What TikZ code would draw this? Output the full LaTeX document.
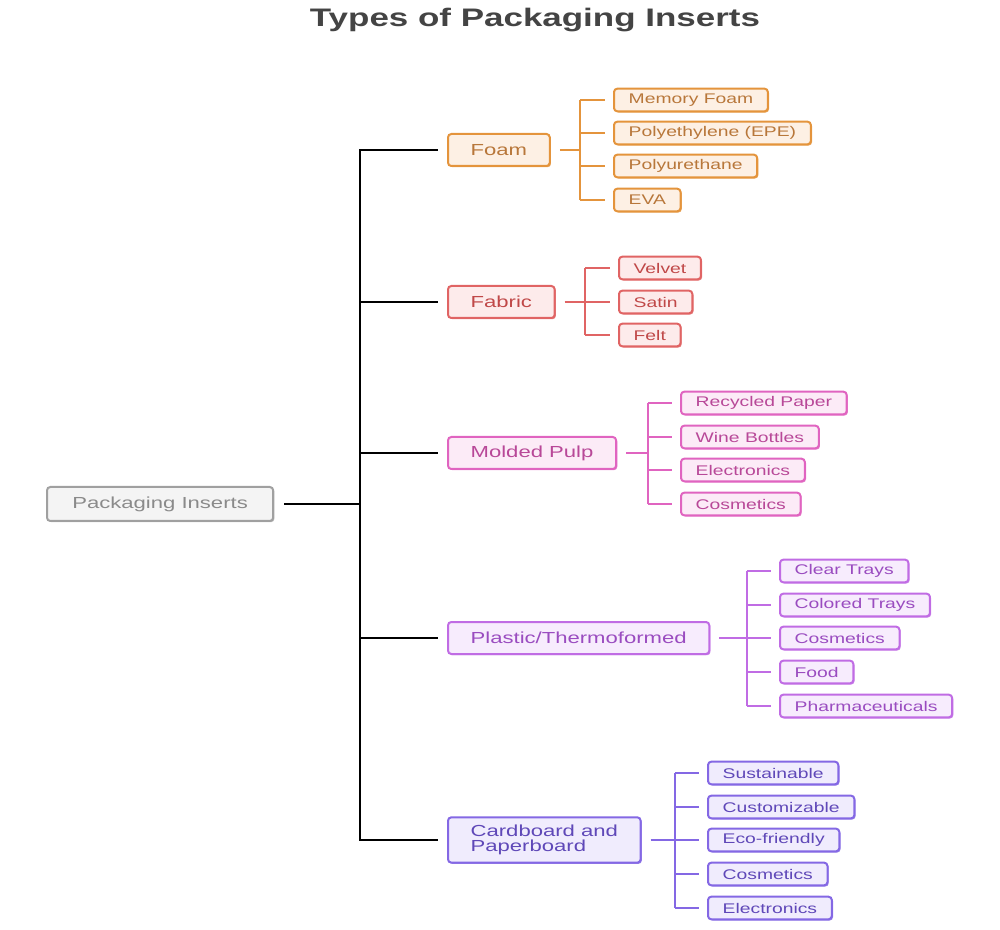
\documentclass[tikz,border=0pt]{standalone}
\usepackage{fontspec}
\setmainfont{Liberation Sans}[FakeStretch=1.38]
\usepackage{tikz}
\usetikzlibrary{shadows}

\definecolor{rootline}{HTML}{A0A0A0}
\definecolor{rootfill}{HTML}{F4F4F4}
\definecolor{roottext}{HTML}{8A8A8A}
\definecolor{foamline}{HTML}{E4943C}
\definecolor{foamfill}{HTML}{FDF0E4}
\definecolor{foamtext}{HTML}{B8773A}
\definecolor{fabricline}{HTML}{E06464}
\definecolor{fabricfill}{HTML}{FDEBEB}
\definecolor{fabrictext}{HTML}{C04848}
\definecolor{pulpline}{HTML}{E064C0}
\definecolor{pulpfill}{HTML}{FCEBF7}
\definecolor{pulptext}{HTML}{B84898}
\definecolor{plasticline}{HTML}{C06CE4}
\definecolor{plasticfill}{HTML}{F7ECFD}
\definecolor{plastictext}{HTML}{9A4CC0}
\definecolor{cardline}{HTML}{8468E4}
\definecolor{cardfill}{HTML}{F0ECFD}
\definecolor{cardtext}{HTML}{5F48B8}
\definecolor{titletext}{HTML}{444444}

\tikzset{
  box/.style={draw, rounded corners=2.5pt, line width=1.5pt, anchor=west},
  rootbox/.style={box, draw=rootline, fill=rootfill, text=roottext,
    font=\fontsize{12}{14}\selectfont, inner xsep=19pt, minimum height=25.5pt,
    drop shadow={shadow xshift=0.9pt, shadow yshift=-0.9pt, fill=rootline, opacity=.7}},
  catbox/.style={box, font=\fontsize{12}{11}\selectfont, inner xsep=17pt, minimum height=24pt, align=left},
  leafbox/.style={box, font=\fontsize{10.5}{12}\selectfont, inner xsep=11pt, minimum height=17pt},
  fam/.style={draw=#1line, fill=#1fill, text=#1text,
    drop shadow={shadow xshift=0.9pt, shadow yshift=-0.9pt, fill=#1line, opacity=.8}},
  trunk/.style={line width=2pt, black},
  link/.style={line width=1.5pt, draw=#1line}
}

\begin{document}
\begin{tikzpicture}[x=0.75pt,y=-0.75pt]
  \useasboundingbox (0,0) rectangle (1000,930);

  % Title
  \node[text=titletext, font=\fontsize{19}{21}\selectfont\bfseries] (title) at (535,20) {Types of Packaging Inserts};

  % Root and categories
  \node[rootbox] (root) at (46,504) {Packaging Inserts};
  \node[catbox, fam=foam] (foam) at (447,150) {Foam};
  \node[catbox, fam=fabric] (fabric) at (447,302) {Fabric};
  \node[catbox, fam=pulp] (pulp) at (447,453) {Molded Pulp};
  \node[catbox, fam=plastic] (plastic) at (447,638) {Plastic/Thermoformed};
  \node[catbox, fam=card, minimum height=34pt] (card) at (447,840) {Cardboard and\\Paperboard};

  % Trunk
  \coordinate (t-root) at (360,504);
  \coordinate (t-foam) at (360,150);
  \coordinate (t-fabric) at (360,302);
  \coordinate (t-pulp) at (360,453);
  \coordinate (t-plastic) at (360,638);
  \coordinate (t-card) at (360,840);
  \draw[trunk, line cap=rect] (t-foam) -- (t-card);
  \draw[trunk, shorten <=7.5pt] (root) -- (t-root);
  \draw[trunk, shorten >=6.75pt] (t-foam) -- (foam);
  \draw[trunk, shorten >=6.75pt] (t-fabric) -- (fabric);
  \draw[trunk, shorten >=6.75pt] (t-pulp) -- (pulp);
  \draw[trunk, shorten >=6.75pt] (t-plastic) -- (plastic);
  \draw[trunk, shorten >=6.75pt] (t-card) -- (card);

  % Foam
  \node[leafbox, fam=foam] (memory) at (613,100) {Memory Foam};
  \node[leafbox, fam=foam] (epe) at (613,133) {Polyethylene (EPE)};
  \node[leafbox, fam=foam] (urethane) at (613,166) {Polyurethane};
  \node[leafbox, fam=foam] (eva) at (613,200) {EVA};
  \coordinate (b-foam) at (580,150);
  \draw[link=foam, shorten <=6.75pt] (foam) -- (b-foam);
  \draw[link=foam] (b-foam |- memory) -- (b-foam |- eva);
  \draw[link=foam, shorten >=6pt] (b-foam |- memory) -- (memory);
  \draw[link=foam, shorten >=6pt] (b-foam |- epe) -- (epe);
  \draw[link=foam, shorten >=6pt] (b-foam |- urethane) -- (urethane);
  \draw[link=foam, shorten >=6pt] (b-foam |- eva) -- (eva);

  % Fabric
  \node[leafbox, fam=fabric] (velvet) at (618,268) {Velvet};
  \node[leafbox, fam=fabric] (satin) at (618,302) {Satin};
  \node[leafbox, fam=fabric] (felt) at (618,335) {Felt};
  \coordinate (b-fabric) at (585,302);
  \draw[link=fabric, shorten <=6.75pt] (fabric) -- (b-fabric);
  \draw[link=fabric] (b-fabric |- velvet) -- (b-fabric |- felt);
  \draw[link=fabric, shorten >=6pt] (b-fabric |- velvet) -- (velvet);
  \draw[link=fabric, shorten >=6pt] (b-fabric |- satin) -- (satin);
  \draw[link=fabric, shorten >=6pt] (b-fabric |- felt) -- (felt);

  % Molded pulp
  \node[leafbox, fam=pulp] (recycled) at (680,403) {Recycled Paper};
  \node[leafbox, fam=pulp] (wine) at (680,437) {Wine Bottles};
  \node[leafbox, fam=pulp] (pulpelec) at (680,470) {Electronics};
  \node[leafbox, fam=pulp] (pulpcos) at (680,504) {Cosmetics};
  \coordinate (b-pulp) at (648,453);
  \draw[link=pulp, shorten <=6.75pt] (pulp) -- (b-pulp);
  \draw[link=pulp] (b-pulp |- recycled) -- (b-pulp |- pulpcos);
  \draw[link=pulp, shorten >=6pt] (b-pulp |- recycled) -- (recycled);
  \draw[link=pulp, shorten >=6pt] (b-pulp |- wine) -- (wine);
  \draw[link=pulp, shorten >=6pt] (b-pulp |- pulpelec) -- (pulpelec);
  \draw[link=pulp, shorten >=6pt] (b-pulp |- pulpcos) -- (pulpcos);

  % Plastic
  \node[leafbox, fam=plastic] (clear) at (779,571) {Clear Trays};
  \node[leafbox, fam=plastic] (colored) at (779,605) {Colored Trays};
  \node[leafbox, fam=plastic] (plascos) at (779,638) {Cosmetics};
  \node[leafbox, fam=plastic] (food) at (779,672) {Food};
  \node[leafbox, fam=plastic] (pharma) at (779,706) {Pharmaceuticals};
  \coordinate (b-plastic) at (747,638);
  \draw[link=plastic, shorten <=6.75pt] (plastic) -- (b-plastic);
  \draw[link=plastic] (b-plastic |- clear) -- (b-plastic |- pharma);
  \draw[link=plastic, shorten >=6pt] (b-plastic |- clear) -- (clear);
  \draw[link=plastic, shorten >=6pt] (b-plastic |- colored) -- (colored);
  \draw[link=plastic, shorten >=6pt] (b-plastic |- plascos) -- (plascos);
  \draw[link=plastic, shorten >=6pt] (b-plastic |- food) -- (food);
  \draw[link=plastic, shorten >=6pt] (b-plastic |- pharma) -- (pharma);

  % Cardboard
  \node[leafbox, fam=card] (sustain) at (707,773) {Sustainable};
  \node[leafbox, fam=card] (custom) at (707,807) {Customizable};
  \node[leafbox, fam=card] (eco) at (707,840) {Eco-friendly};
  \node[leafbox, fam=card] (cardcos) at (707,874) {Cosmetics};
  \node[leafbox, fam=card] (cardelec) at (707,908) {Electronics};
  \coordinate (b-card) at (675,840);
  \draw[link=card, shorten <=6.75pt] (card) -- (b-card);
  \draw[link=card] (b-card |- sustain) -- (b-card |- cardelec);
  \draw[link=card, shorten >=6pt] (b-card |- sustain) -- (sustain);
  \draw[link=card, shorten >=6pt] (b-card |- custom) -- (custom);
  \draw[link=card, shorten >=6pt] (b-card |- eco) -- (eco);
  \draw[link=card, shorten >=6pt] (b-card |- cardcos) -- (cardcos);
  \draw[link=card, shorten >=6pt] (b-card |- cardelec) -- (cardelec);
\end{tikzpicture}
\end{document}
